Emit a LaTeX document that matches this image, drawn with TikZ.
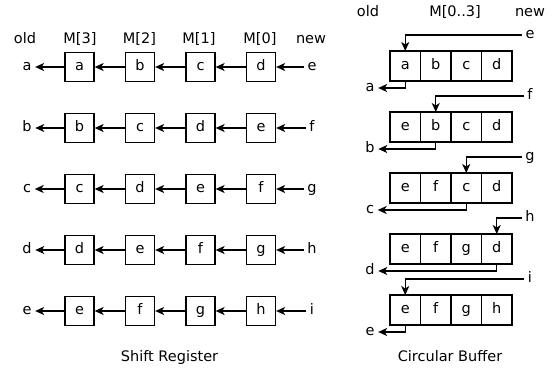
\documentclass[tikz,border=0pt]{standalone}
\usepackage{fontspec}
\setmainfont{DejaVu Sans}
\usetikzlibrary{arrows.meta}
\begin{document}
\begin{tikzpicture}[x=1pt,y=-1pt,
  every node/.style={font=\fontsize{14.5}{16}\selectfont, text height=10pt, text depth=3pt},
  reg/.style={draw, line width=1.3pt, minimum width=29pt, minimum height=29pt, inner sep=0pt},
  cell/.style={draw, line width=1.2pt, minimum width=30.5pt, minimum height=30pt, inner sep=0pt, outer sep=0pt},
  lbl/.style={inner sep=3.5pt},
  arr/.style={line width=1.4pt, -{Stealth[length=9pt,width=8pt,inset=2.5pt]}}]
\useasboundingbox (0,0) rectangle (560,378);
% headers
\node (hold) at (25,40) {old};
\node (hm3) at (80,40) {M[3]};
\node (hm2) at (139.5,40) {M[2]};
\node (hm1) at (199,40) {M[1]};
\node (hm0) at (260,40) {M[0]};
\node (hnew) at (311,40) {new};
\node (cold) at (368,13) {old};
\node (cm) at (455,13) {M[0..3]};
\node (cnew) at (530,13) {new};
\node (t1) at (169.5,358) {Shift Register};
\node (t2) at (450,358) {Circular Buffer};
% shift register
\foreach \r/\o/\p/\q/\s/\n in {0/a/b/c/d/e,1/b/c/d/e/f,2/c/d/e/f/g,3/d/e/f/g/h,4/e/f/g/h/i}{
  \pgfmathsetmacro\y{67+61*\r}
  \node[reg] (s\r-3) at (79.5,\y) {\o};
  \node[reg] (s\r-2) at (140,\y) {\p};
  \node[reg] (s\r-1) at (200.5,\y) {\q};
  \node[reg] (s\r-0) at (261,\y) {\s};
  \node[lbl] (so\r) at (27,\y) {\o};
  \node[lbl] (si\r) at (312,\y) {\n};
  \draw[arr] (si\r.west) -- (s\r-0.east);
  \draw[arr] (s\r-0.west) -- (s\r-1.east);
  \draw[arr] (s\r-1.west) -- (s\r-2.east);
  \draw[arr] (s\r-2.west) -- (s\r-3.east);
  \draw[arr] (s\r-3.west) -- (so\r.east);
}
% circular buffer
\foreach \r/\c/\a/\b/\cc/\d/\i/\o in {0/0/a/b/c/d/e/a,1/1/e/b/c/d/f/b,2/2/e/f/c/d/g/c,3/3/e/f/g/d/h/d,4/0/e/f/g/h/i/e}{
  \pgfmathsetmacro\y{66+61*\r}
  \node[cell] (c\r-0) at (405.25,\y) {\a};
  \node[cell] (c\r-1) at (435.75,\y) {\b};
  \node[cell] (c\r-2) at (466.25,\y) {\cc};
  \node[cell] (c\r-3) at (496.75,\y) {\d};
  \node[lbl] (ci\r) at (530,\y-31) {\i};
  \node[lbl] (co\r) at (370,\y+22) {\o};
  \draw[arr] (ci\r.west) -| (c\r-\c.north);
  \draw[arr] (c\r-\c.south) |- (co\r.east);
}
\end{tikzpicture}
\end{document}
